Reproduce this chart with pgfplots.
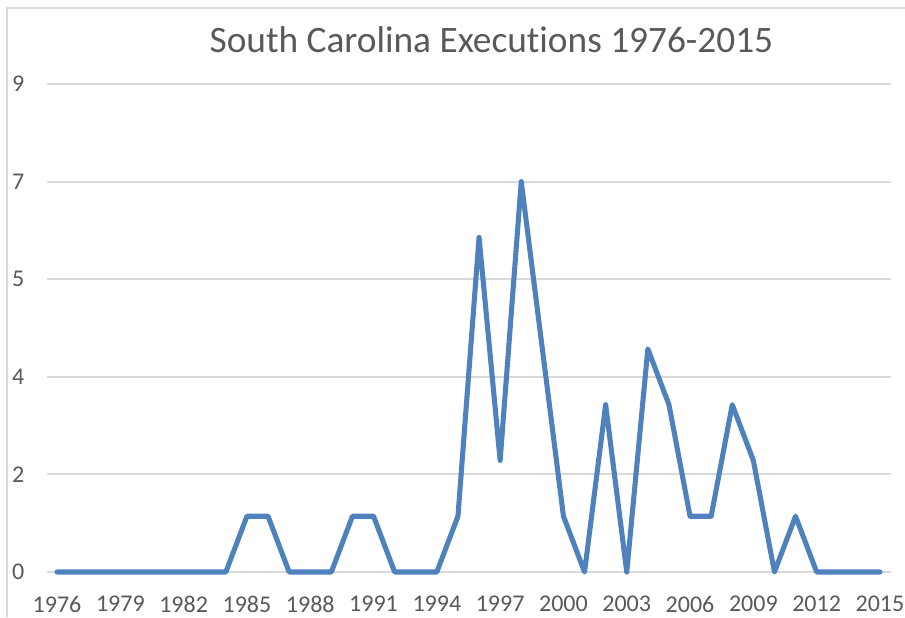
\documentclass[border=0pt]{standalone}
\usepackage{pgfplots}
\pgfplotsset{compat=1.18}
\usepackage{fontspec}
\setmainfont{Carlito}[RawFeature=-liga]
\definecolor{txtgray}{RGB}{89,89,89}
\definecolor{gridgray}{RGB}{217,217,217}
\definecolor{lineblue}{RGB}{79,129,189}
\definecolor{framegray}{RGB}{217,217,217}
\begin{document}
\begin{tikzpicture}
\path[use as bounding box] (0,0) rectangle (678.75pt,462.75pt);
\draw[framegray, line width=1.5pt] (5.25pt,0pt) -- (5.25pt,456.75pt) -- (678.75pt,456.75pt);
\node[txtgray, font=\fontsize{28}{31}\selectfont] at (368.6pt,432.75pt) {South Carolina Executions 1976-2015};
\begin{axis}[
  at={(34.875pt,33.75pt)}, anchor=south west,
  scale only axis,
  width=633pt, height=366pt,
  xmin=1975.5, xmax=2015.5,
  ymin=0, ymax=8.75,
  clip=false,
  axis line style={draw=none},
  major tick length=0pt,
  xtick={1976,1979,...,2015},
  ytick={0,1.75,3.5,5.25,7,8.75},
  yticklabels={0,2,4,5,7,9},
  ymajorgrids,
  grid style={gridgray, line width=1.5pt},
  /pgf/number format/1000 sep={},
  /pgf/number format/assume math mode=true,
  tick label style={txtgray, font=\fontsize{18}{20}\selectfont},
  xticklabel style={anchor=north, inner sep=0pt, yshift=-18pt},
  yticklabel style={anchor=west, inner sep=0pt, xshift=-26pt},
]
\addplot[lineblue, line width=3.8pt, line join=round, line cap=round] coordinates {
(1976,0) (1977,0) (1978,0) (1979,0) (1980,0) (1981,0) (1982,0) (1983,0) (1984,0)
(1985,1) (1986,1) (1987,0) (1988,0) (1989,0) (1990,1) (1991,1) (1992,0) (1993,0)
(1994,0) (1995,1) (1996,6) (1997,2) (1998,7) (1999,4) (2000,1) (2001,0) (2002,3)
(2003,0) (2004,4) (2005,3) (2006,1) (2007,1) (2008,3) (2009,2) (2010,0) (2011,1)
(2012,0) (2013,0) (2014,0) (2015,0)
};
\end{axis}
\end{tikzpicture}
\end{document}
